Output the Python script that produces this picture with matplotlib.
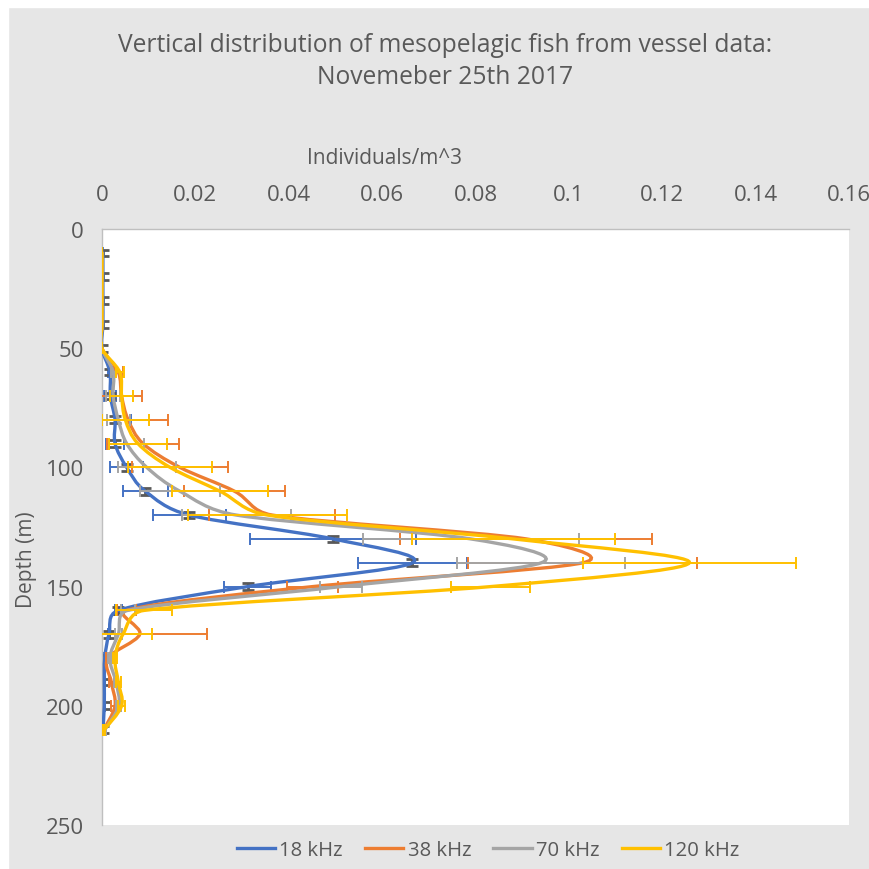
import matplotlib
matplotlib.use("Agg")
import matplotlib.pyplot as plt
import numpy as np
from matplotlib.path import Path
from matplotlib.patches import PathPatch, Rectangle
from matplotlib.lines import Line2D

plt.rcParams['font.family'] = ['Open Sans', 'DejaVu Sans']

# depth of each sample (m)
depths = [10, 20, 30, 40, 50, 60, 70, 80, 90, 100, 110, 120, 130, 140, 150, 160, 170, 180, 190, 200, 210]

# individuals/m^3 per frequency
khz18 = [0.0002, 0.0002, 0.0002, 0.0002, 0.0, 0.0017, 0.0018, 0.0028, 0.0028, 0.0053, 0.0093,
         0.0187, 0.0495, 0.0665, 0.0312, 0.0035, 0.0015, 0.0006, 0.0005, 0.0005, 0.0002]
khz38 = [0.0, 0.0, 0.0, 0.0, 0.0, 0.0035, 0.0042, 0.0056, 0.0088, 0.0167, 0.0284,
         0.0365, 0.0909, 0.103, 0.0451, 0.0052, 0.0081, 0.0013, 0.002, 0.0028, 0.0004]
khz70 = [0.0, 0.0, 0.0, 0.0, 0.0, 0.0024, 0.0024, 0.0035, 0.0053, 0.0096, 0.0167,
         0.0288, 0.079, 0.0941, 0.0512, 0.0055, 0.0035, 0.0017, 0.003, 0.0036, 0.0006]
khz120 = [0.0, 0.0, 0.0, 0.0, 0.0, 0.0038, 0.0042, 0.005, 0.0077, 0.0146, 0.0253,
          0.0355, 0.0881, 0.1258, 0.0832, 0.009, 0.0045, 0.0028, 0.0035, 0.0042, 0.0005]

# horizontal error (individuals/m^3)
err18 = [0, 0, 0, 0, 0, 0.0005, 0.0013, 0.0035, 0.002, 0.0035, 0.0049,
         0.0078, 0.0178, 0.0117, 0.005, 0.0008, 0.0003, 0.0002, 0.0002, 0.0002, 0.0002]
err38 = [0, 0, 0, 0, 0, 0.001, 0.0043, 0.0086, 0.0077, 0.0103, 0.0109,
         0.0135, 0.027, 0.0245, 0.0055, 0.002, 0.0143, 0.0005, 0.0005, 0.0008, 0.0002]
err70 = [0, 0, 0, 0, 0, 0.0005, 0.0015, 0.0025, 0.0038, 0.0062, 0.0085,
         0.0116, 0.0232, 0.018, 0.0045, 0.0015, 0.0008, 0.0004, 0.0004, 0.0005, 0.0002]
err120 = [0, 0, 0, 0, 0, 0.0009, 0.0024, 0.005, 0.0062, 0.009, 0.0102,
          0.017, 0.0217, 0.0228, 0.0084, 0.006, 0.0063, 0.0005, 0.0005, 0.0008, 0.0002]
# small depth error on the 18 kHz points (m)
depth_err18 = 1.4

labels = ['18 kHz', '38 kHz', '70 kHz', '120 kHz']
colors = ['#4472C4', '#ED7D31', '#A5A5A5', '#FFC000']
xtick_vals = [0, 0.02, 0.04, 0.06, 0.08, 0.1, 0.12, 0.14, 0.16]
xtick_labels = ['0', '0.02', '0.04', '0.06', '0.08', '0.1', '0.12', '0.14', '0.16']
ytick_vals = [0, 50, 100, 150, 200, 250]

XMAX, YMAX = 0.16, 250
AX_W, AX_H = 748.0, 596.0  # axes size in pixels, used to keep the smoothing even


def smooth_path(x, y, limit=0.5):
    # excel style smoothed line: cubic beziers through every point,
    # handles clamped to a share of the segment length so short steps don't hook
    sx, sy = AX_W / XMAX, AX_H / YMAX
    X = np.asarray(x, float) * sx
    Y = np.asarray(y, float) * sy
    P = np.column_stack([X, Y])
    Pe = np.vstack([P[0], P, P[-1]])
    verts = [tuple(P[0])]
    codes = [Path.MOVETO]
    for i in range(len(P) - 1):
        seg = np.hypot(*(P[i + 1] - P[i]))
        d1 = (Pe[i + 2] - Pe[i]) / 6
        d2 = (Pe[i + 3] - Pe[i + 1]) / 6
        n1, n2 = np.hypot(*d1), np.hypot(*d2)
        if n1 > limit * seg and n1 > 0:
            d1 = d1 * limit * seg / n1
        if n2 > limit * seg and n2 > 0:
            d2 = d2 * limit * seg / n2
        verts += [tuple(P[i] + d1), tuple(P[i + 1] - d2), tuple(P[i + 1])]
        codes += [Path.CURVE4] * 3
    verts = [(vx / sx, vy / sy) for vx, vy in verts]
    return Path(verts, codes)


grey_txt = '#595959'
fig = plt.figure(figsize=(8.7, 8.7), dpi=100, facecolor='#e6e6e6')
fig.patches.append(Rectangle((0, 1 - 8 / 870), 1, 8 / 870, transform=fig.transFigure, color='white', zorder=0))
fig.patches.append(Rectangle((0, 0), 8 / 870, 1, transform=fig.transFigure, color='white', zorder=0))
ax = fig.add_axes([0.1172, 0.0506, 0.8587, 0.685])
ax.set_facecolor('white')

series = [khz18, khz38, khz70, khz120]
errs = [err18, err38, err70, err120]
for k in range(4):
    ax.errorbar(series[k], depths, xerr=errs[k], fmt='none', ecolor=colors[k],
                elinewidth=1.4, capsize=4.5, capthick=1.4, zorder=2 + k)
    if k == 0:
        ax.errorbar(series[k], depths, yerr=depth_err18, fmt='none', ecolor='#595959',
                    elinewidth=2.0, capsize=4, capthick=2.0, zorder=2)
    ax.add_patch(PathPatch(smooth_path(series[k], depths), fill=False,
                           edgecolor=colors[k], lw=2.4, zorder=3 + k, capstyle='round'))

ax.set_xlim(0, XMAX)
ax.set_ylim(YMAX, 0)
ax.xaxis.tick_top()
ax.set_xticks(xtick_vals)
ax.set_xticklabels(xtick_labels)
ax.set_yticks(ytick_vals)
ax.tick_params(axis='both', length=0, labelsize=16, labelcolor=grey_txt)
ax.tick_params(axis='x', pad=17)
ax.tick_params(axis='y', pad=13)
for s in ['right', 'bottom']:
    ax.spines[s].set_visible(False)
for s in ['top', 'left']:
    ax.spines[s].set_color('#bfbfbf')
    ax.spines[s].set_linewidth(1.0)

fig.text(445 / 870, 1 - 45 / 870, 'Vertical distribution of mesopelagic fish from vessel data:',
         ha='center', va='center', fontsize=17.7, color=grey_txt)
fig.text(445 / 870, 1 - 77 / 870, 'Novemeber 25th 2017',
         ha='center', va='center', fontsize=17.7, color=grey_txt)
fig.text(385 / 870, 1 - 158 / 870, 'Individuals/m^3', ha='center', va='center',
         fontsize=15, color=grey_txt)
fig.text(27 / 870, 1 - 560 / 870, 'Depth (m)', ha='center', va='center', rotation=90,
         fontsize=15, color=grey_txt)

handles = [Line2D([], [], color=c, lw=2.4) for c in colors]
fig.legend(handles, labels, loc='center', bbox_to_anchor=(0.561, 1 - 851 / 870), ncol=4,
           frameon=False, fontsize=14.6, labelcolor=grey_txt, handlelength=1.9,
           handletextpad=0.2, columnspacing=1.1)

fig.savefig('out.png', dpi=100, facecolor=fig.get_facecolor())
